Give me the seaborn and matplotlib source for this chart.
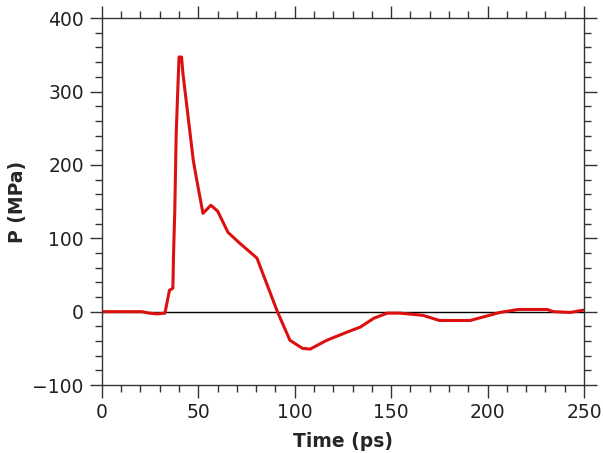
import numpy as np
import pandas as pd
import matplotlib
matplotlib.use('Agg')
import matplotlib.pyplot as plt
from matplotlib.ticker import MultipleLocator
import seaborn as sns

# Datos
time_ps = [0, 20.7, 24.4, 28.5, 32.7, 35.0, 36.8, 37.2, 37.8, 38.5, 39.2, 40.0, 41.3,
           42.0, 47.4, 49.0, 52.4, 56.5, 60.0, 65.4, 71.6, 80.4, 91.0, 97.5, 104.0,
           108.0, 116.6, 127.0, 134.0, 141.0, 148.0, 154.6, 166.5, 175.0, 191.0,
           206.5, 216.0, 231.0, 234.0, 243.0, 249.5]
pressure_mpa = [0, 0, -2, -3, -2, 29, 32, 84, 138, 240, 292, 347, 347,
                325, 206, 182, 134, 145, 137, 108, 93, 73, 0, -39, -50,
                -51, -39, -28, -21, -9, -2, -2, -5, -12, -12,
                -1, 3, 3, 0, -1, 2]

df = pd.DataFrame({'time': time_ps, 'P': pressure_mpa})

sns.set_style('ticks')
plt.rcParams['font.family'] = ['DejaVu Sans']

fig, ax = plt.subplots(figsize=(6.03, 4.53), dpi=100)
fig.subplots_adjust(left=0.169, right=0.9685, top=0.960, bottom=0.150)

ax.axhline(0, color='black', linewidth=1.0, zorder=1)
sns.lineplot(data=df, x='time', y='P', ax=ax, color='#dd1010', linewidth=2.2, zorder=2)

ax.set_xlim(0, 250)
ax.set_ylim(-100, 400)
ax.xaxis.set_major_locator(MultipleLocator(50))
ax.xaxis.set_minor_locator(MultipleLocator(10))
ax.yaxis.set_major_locator(MultipleLocator(100))
ax.yaxis.set_minor_locator(MultipleLocator(20))

for s in ax.spines.values():
    s.set_linewidth(1.0)
    s.set_color('#333333')

ax.tick_params(which='both', direction='out', top=True, right=True,
               labeltop=False, labelright=False, color='#333333', width=1.0)
ax.tick_params(which='major', length=9, labelsize=13.5, labelcolor='#222222', pad=4)
ax.tick_params(which='minor', length=5)

ax.set_xlabel('Time (ps)', fontsize=13.5, fontweight='bold', labelpad=7)
ax.set_ylabel('P (MPa)', fontsize=13.5, fontweight='bold', labelpad=4)

plt.savefig('out.png', dpi=100)
